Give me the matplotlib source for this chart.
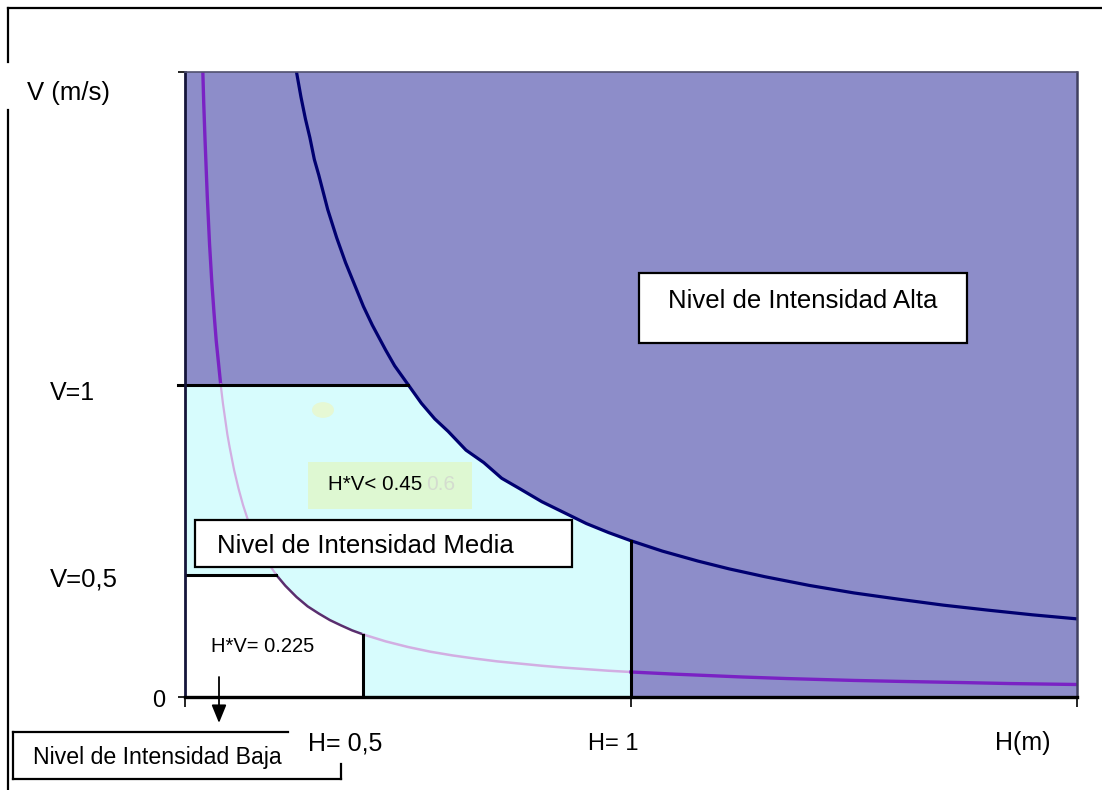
import matplotlib.pyplot as plt
from matplotlib.patches import Rectangle, Circle
from matplotlib.lines import Line2D
import numpy as np

plt.rcParams['font.family'] = ['Liberation Sans', 'DejaVu Sans']

W_PX, H_PX = 1102, 790

# curve H*V = 0.5 (upper limit of medium intensity)
h_high = [0.25, 0.26, 0.27, 0.28, 0.29, 0.30, 0.32, 0.34, 0.36, 0.38, 0.40, 0.42,
          0.45, 0.47, 0.50, 0.53, 0.56, 0.59, 0.63, 0.67, 0.71, 0.75, 0.80, 0.85,
          0.90, 0.95, 1.00, 1.07, 1.15, 1.22, 1.30, 1.40, 1.50, 1.60, 1.70, 1.80,
          1.90, 2.00]
v_high = [2.00, 1.92, 1.85, 1.79, 1.72, 1.67, 1.56, 1.47, 1.39, 1.32, 1.25, 1.19,
          1.11, 1.06, 1.00, 0.94, 0.89, 0.85, 0.79, 0.75, 0.70, 0.667, 0.625, 0.59,
          0.555, 0.526, 0.50, 0.467, 0.435, 0.41, 0.385, 0.357, 0.333, 0.313, 0.294,
          0.278, 0.263, 0.25]

# curve H*V ~ 0.08 (lower limit)
h_low = [0.04, 0.042, 0.045, 0.05, 0.055, 0.06, 0.065, 0.07, 0.075, 0.08, 0.085,
         0.09, 0.095, 0.10, 0.11, 0.12, 0.13, 0.14, 0.155, 0.17, 0.185, 0.205,
         0.225, 0.25, 0.275, 0.30, 0.325, 0.35, 0.375, 0.40, 0.45, 0.50, 0.55,
         0.60, 0.65, 0.70, 0.75, 0.80, 0.85, 0.90, 0.95, 1.00, 1.10, 1.25, 1.35,
         1.50, 1.60, 1.75, 1.85, 2.00]
v_low = [2.00, 1.90, 1.78, 1.60, 1.45, 1.33, 1.23, 1.14, 1.07, 1.00, 0.94,
         0.89, 0.84, 0.80, 0.727, 0.667, 0.615, 0.571, 0.516, 0.47, 0.432, 0.39,
         0.356, 0.32, 0.29, 0.267, 0.246, 0.229, 0.213, 0.20, 0.178, 0.16, 0.145,
         0.133, 0.123, 0.114, 0.107, 0.10, 0.094, 0.089, 0.084, 0.08, 0.073, 0.064,
         0.059, 0.053, 0.05, 0.046, 0.043, 0.04]

v_medium = 1.0      # V=1
v_low_lim = 0.39    # V=0,5 line
h_low_lim = 0.40    # H=0,5 line
h_medium = 1.0      # H=1

DARK = '#8d8dc9'
CYAN = '#d7fcfd'


def fx(px):
    return px / W_PX


def fy(py):
    return 1 - py / H_PX


fig = plt.figure(figsize=(W_PX / 100, H_PX / 100), dpi=100)
ax = fig.add_axes([fx(185), fy(697), fx(1077) - fx(185), fy(72) - fy(697)])
ax.set_facecolor(DARK)
ax.set_xlim(0, 2)
ax.set_ylim(0, 2)

hh = np.array(h_high)
vh = np.array(v_high)
hl = np.array(h_low)
vl = np.array(v_low)

# medium zone (light cyan)
m = (hh >= 0.5) & (hh <= h_medium)
ax.fill(np.concatenate([[0, 0], hh[m], [h_medium]]),
        np.concatenate([[0, v_medium], vh[m], [0]]), color=CYAN, lw=0, zorder=1)

# low zone (white)
m = (hl >= 0.205) & (hl <= h_low_lim)
ax.fill(np.concatenate([[0, 0], hl[m], [h_low_lim]]),
        np.concatenate([[0, v_low_lim], vl[m], [0]]), color='white', lw=0, zorder=1)

# lower curve, coloured by zone
segs = [((hl <= 0.08), '#7a22c4', 2.4),
        ((hl >= 0.08) & (hl <= 0.205), '#d2aee2', 1.6),
        ((hl >= 0.205) & (hl <= 0.40), '#5a2e6e', 1.8),
        ((hl >= 0.40) & (hl <= 1.0), '#d2aee2', 1.8),
        ((hl >= 1.0), '#7a22c4', 2.4)]
for mask, col, lw in segs:
    ax.plot(hl[mask], vl[mask], color=col, lw=lw, zorder=3)

# upper curve
ax.plot(hh, vh, color='#000070', lw=2.3, zorder=3)

# limit lines
ax.plot([-0.016, 0.5], [v_medium, v_medium], color='black', lw=2.2, zorder=4, clip_on=False)
ax.plot([0, 0.205], [v_low_lim, v_low_lim], color='black', lw=2.2, zorder=4)
ax.plot([h_low_lim, h_low_lim], [0, 0.20], color='black', lw=2.2, zorder=4)
ax.plot([h_medium, h_medium], [0, 0.50], color='black', lw=2.2, zorder=4)

ax.set_xticks([0, 1, 2])
ax.set_yticks([0, 1, 2])
ax.tick_params(axis='x', direction='out', length=7, width=1.2, labelbottom=False)
ax.tick_params(axis='y', direction='out', length=5, width=1.2, labelleft=False)
ax.spines['bottom'].set_linewidth(2.4)
ax.spines['bottom'].set_color('black')
ax.spines['left'].set_linewidth(2.0)
ax.spines['left'].set_color('#15153a')
ax.spines['top'].set_linewidth(1.2)
ax.spines['top'].set_color('#50506e')
ax.spines['right'].set_linewidth(1.8)
ax.spines['right'].set_color('#404060')
for s in ax.spines.values():
    s.set_zorder(5)

# faint decorations
fig.add_artist(Circle((fx(323), fy(410)), 11 / W_PX, transform=fig.transFigure,
                      color='#e6f8d4', lw=0, zorder=2))
fig.add_artist(Rectangle((fx(308), fy(509)), fx(472) - fx(308), fy(462) - fy(509),
                         transform=fig.transFigure, color='#def8d2', lw=0, zorder=2))
fig.text(fx(426), fy(490), '0.6', fontsize=15, color='#d4dccf', zorder=3)

# boxes
fig.add_artist(Rectangle((fx(639), fy(343)), fx(967) - fx(639), fy(273) - fy(343),
                         transform=fig.transFigure, facecolor='white', edgecolor='black',
                         lw=1.6, zorder=2))
fig.add_artist(Rectangle((fx(195), fy(567)), fx(572) - fx(195), fy(520) - fy(567),
                         transform=fig.transFigure, facecolor='white', edgecolor='black',
                         lw=1.6, zorder=2))

# bracket of "baja"
for xs, ys in [([13, 288], [732, 732]), ([13, 13], [732, 779]),
               ([13, 341], [779, 779]), ([341, 341], [764, 779])]:
    fig.add_artist(Line2D([fx(x) for x in xs], [fy(y) for y in ys], color='black',
                          lw=1.6, transform=fig.transFigure))

# outer frame
for xs, ys in [([8, 1102], [8, 8]), ([8, 8], [8, 62]), ([8, 8], [110, 790])]:
    fig.add_artist(Line2D([fx(x) for x in xs], [fy(y) for y in ys], color='black',
                          lw=1.6, transform=fig.transFigure))

# arrow
ax.annotate('', xy=(219, H_PX - 723), xytext=(219, H_PX - 677),
            xycoords='figure pixels', textcoords='figure pixels',
            arrowprops=dict(arrowstyle='-|>,head_length=1.1,head_width=0.45',
                            color='black', lw=1.3, shrinkA=0, shrinkB=0))

# texts
labels = [(27, 100, 'V (m/s)', 18.5),
          (50, 400, 'V=1', 18),
          (50, 586, 'V=0,5', 18.5),
          (152, 707, '0', 17),
          (308, 750, 'H= 0,5', 18),
          (588, 750, 'H= 1', 17),
          (995, 750, 'H(m)', 18),
          (211, 652, 'H*V= 0.225', 14.5),
          (328, 490, 'H*V< 0.45', 14.8),
          (33, 764, 'Nivel de Intensidad Baja', 16.7),
          (217, 553, 'Nivel de Intensidad Media', 18.5),
          (668, 308, 'Nivel de Intensidad Alta', 18.5)]
for x, y, t, fs in labels:
    fig.text(fx(x), fy(y), t, fontsize=fs, ha='left', va='baseline', color='black', zorder=4)

fig.savefig('out.png', dpi=100)
